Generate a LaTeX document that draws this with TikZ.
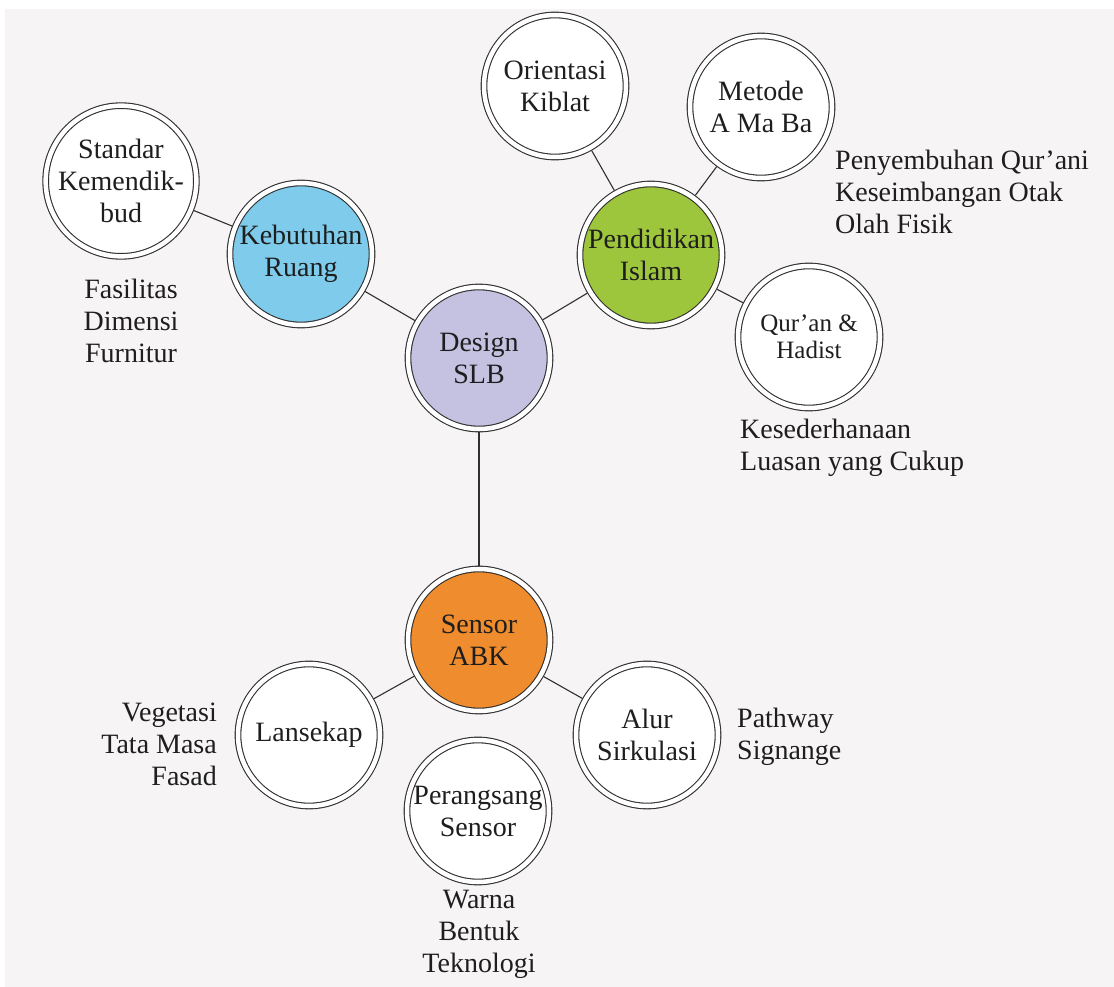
\documentclass[tikz,border=0pt]{standalone}
\usepackage{fontspec}
\setmainfont{Liberation Serif}
\pgfdeclarelayer{paperlayer}
\pgfdeclarelayer{back}
\pgfsetlayers{paperlayer,back,main}
\definecolor{paper}{HTML}{F6F4F5}
\definecolor{ink}{HTML}{1E1E1E}
\definecolor{linec}{HTML}{303030}
\definecolor{lav}{HTML}{C4C1E1}
\definecolor{sky}{HTML}{7ECBEB}
\definecolor{leaf}{HTML}{9DC63D}
\definecolor{amber}{HTML}{EE8C2E}
\newcommand{\txtfont}{\fontsize{28}{32}\selectfont}
\newcommand{\smallfont}{\fontsize{25}{27}\selectfont}
\tikzset{
  bub/.style={circle, draw=linec, line width=1.1pt, double=white,
    double distance=4.5pt, minimum size=142pt, inner sep=0pt,
    outer sep=3.3pt, align=center, fill=white, text=ink, font=\txtfont},
  lbl/.style={inner sep=0pt, text=ink, font=\txtfont},
  link/.style={draw=linec, line width=1.1pt}
}
\begin{document}
\begin{tikzpicture}[x=1pt, y=-1pt]
\useasboundingbox (0,0) rectangle (1114,987);
\begin{pgfonlayer}{paperlayer}
\fill[paper] (5,9) rectangle (1114,987);
\end{pgfonlayer}

% central topic and the three branches
\node[bub, fill=lav]   (design) at (479,358) {Design\\SLB};
\node[bub, fill=sky]   (ruang)  at (301,254) {Kebutuhan\\Ruang};
\node[bub, fill=leaf]  (islam)  at (651,255) {Pendidikan\\Islam};
\node[bub, fill=amber] (sensor) at (479,640) {Sensor\\ABK};

% sub-topics
\node[bub] (standar)  at (121,181) {Standar\\Kemendik-\\bud};
\node[bub] (kiblat)   at (555,86)  {Orientasi\\Kiblat};
\node[bub] (metode)   at (761,107) {Metode\\A Ma Ba};
\node[bub, font=\smallfont] (quran) at (809,337) {Qur'an \&\\Hadist};
\node[bub] (lansekap) at (309,735) {Lansekap};
\node[bub] (alur)     at (647,735) {Alur\\Sirkulasi};
\node[bub] (rangsang) at (478,811) {Perangsang\\Sensor};

% connectors
\begin{pgfonlayer}{back}
\draw[link] (design) -- (ruang);
\draw[link] (design) -- (islam);
\draw[link] (design) -- (sensor);
\draw[link] (ruang) -- (standar);
\draw[link] (islam) -- (kiblat);
\draw[link] (islam) -- (metode);
\draw[link] (islam) -- (quran);
\draw[link] (sensor) -- (lansekap);
\draw[link] (sensor) -- (alur);
\end{pgfonlayer}

% notes
\node[lbl, align=center] (n1) at (131,321) {Fasilitas\\Dimensi\\Furnitur};
\node[lbl, align=left, anchor=west] (n2) at (835,192) {Penyembuhan Qur'ani\\Keseimbangan Otak\\Olah Fisik};
\node[lbl, align=left, anchor=west] (n3) at (740,448) {Kesederhanaan\\Luasan yang Cukup};
\node[lbl, align=right, anchor=east] (n4) at (217,744) {Vegetasi\\Tata Masa\\Fasad};
\node[lbl, align=left, anchor=west] (n5) at (737,737) {Pathway\\Signange};
\node[lbl, align=center] (n6) at (479,934) {Warna\\Bentuk\\Teknologi};
\end{tikzpicture}
\end{document}
